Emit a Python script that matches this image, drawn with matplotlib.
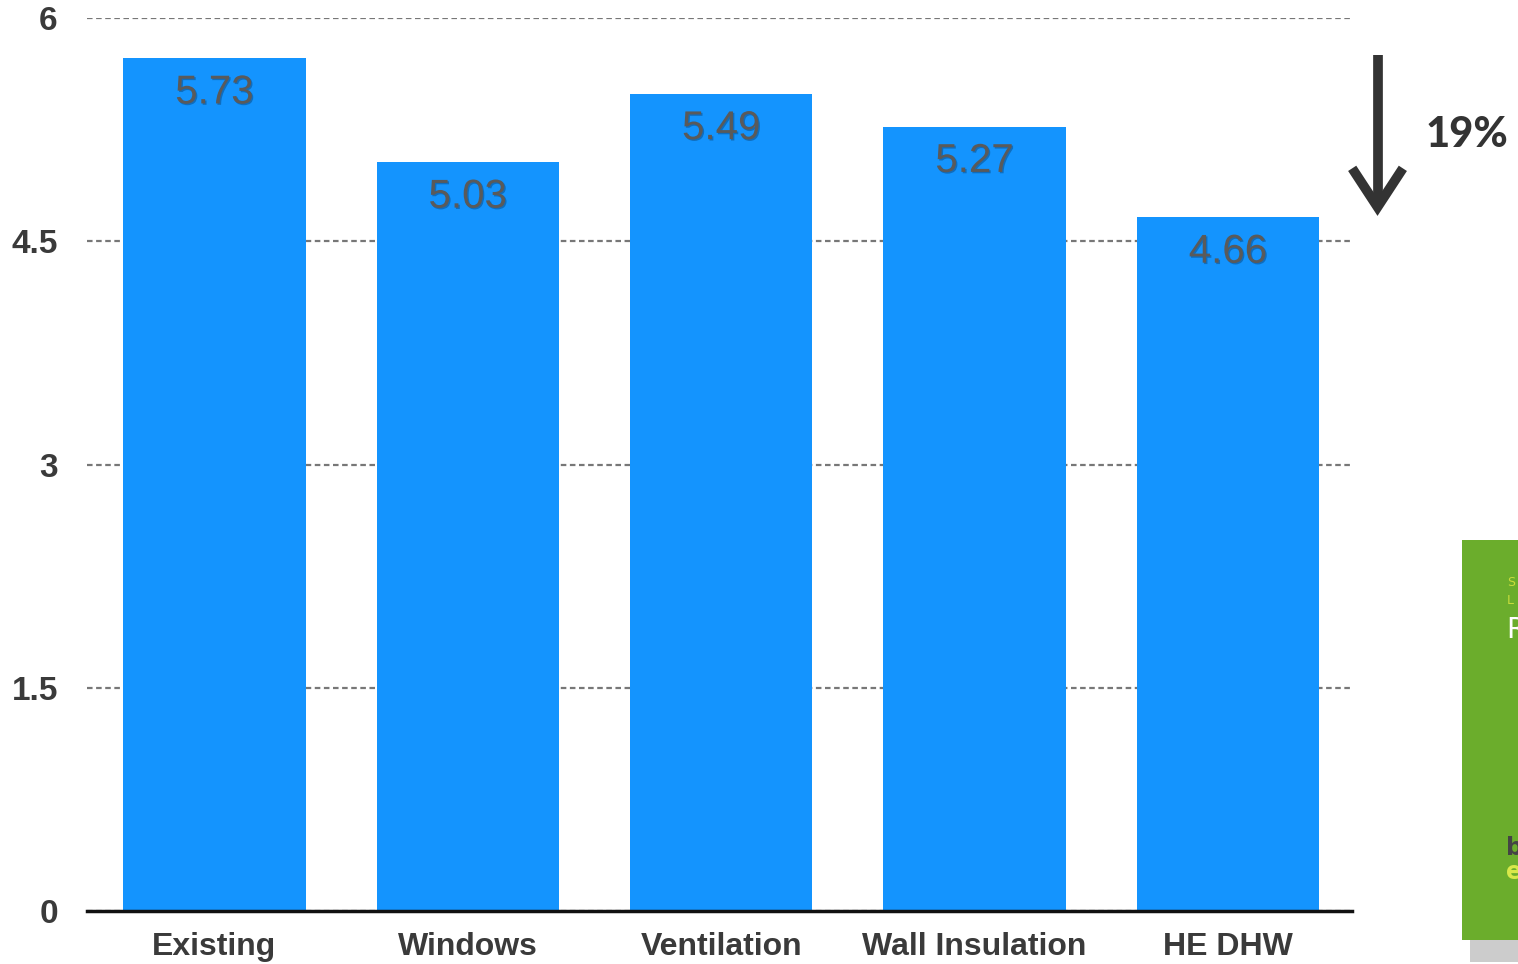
import numpy as np
import matplotlib
matplotlib.use('Agg')
from matplotlib import pyplot as plt
from matplotlib import patheffects as pe
from matplotlib.patches import Rectangle

# data
categories = ['Existing', 'Windows', 'Ventilation', 'Wall Insulation', 'HE DHW']
values = [5.73, 5.03, 5.49, 5.27, 4.66]
yticks = [0, 1.5, 3, 4.5, 6]
ytick_labels = ['0', '1.5', '3', '4.5', '6']

bar_color = '#1494fe'
text_color = '#3a3a3a'

fig = plt.figure(figsize=(15.18, 9.64), dpi=100)
ax = fig.add_axes([0.0573, 0.055, 0.8333, 0.9263])

x = np.arange(len(categories))
ax.bar(x, values, width=0.72, color=bar_color, zorder=3)

ax.set_xlim(-0.503, 4.49)
ax.set_ylim(0, 6)
ax.set_yticks(yticks)
ax.set_yticklabels(ytick_labels)
ax.set_xticks(x)
ax.set_xticklabels(categories)

for s in ['top', 'right', 'left']:
    ax.spines[s].set_visible(False)
ax.spines['bottom'].set_linewidth(2.5)
ax.spines['bottom'].set_color('#111111')
ax.spines['bottom'].set_zorder(4)

ax.tick_params(axis='both', length=0)
ax.tick_params(axis='y', pad=21)
ax.tick_params(axis='x', pad=15)
for lab in ax.get_yticklabels():
    lab.set_fontfamily('Liberation Sans')
    lab.set_fontweight('bold')
    lab.set_fontsize(24)
    lab.set_color(text_color)
for lab in ax.get_xticklabels():
    lab.set_fontfamily('Liberation Sans')
    lab.set_fontweight('bold')
    lab.set_fontsize(23)
    lab.set_color(text_color)

ax.yaxis.grid(True, linestyle=(0, (2.5, 1.6)), color='#777777', linewidth=1.6, zorder=0)
ax.set_axisbelow(True)

# value labels inside bars
for xi, v in zip(x, values):
    ax.text(xi, v - 0.23, f'{v:.2f}', ha='center', va='center', fontsize=29,
            family='Liberation Sans', color='#5a5a5a', zorder=5,
            path_effects=[pe.SimplePatchShadow(offset=(1, -1), shadow_rgbFace='#0a3f70', alpha=0.45),
                          pe.Normal()])

# drop arrow from first to last bar value, open chevron head
ax_x = 4.591
arrow_kw = dict(color='#333333', lw=7, clip_on=False, zorder=5,
                solid_capstyle='butt', solid_joinstyle='miter')
ax.plot([ax_x, ax_x], [values[0] + 0.02, values[-1] + 0.08], **arrow_kw)
ax.plot([ax_x - 0.1, ax_x, ax_x + 0.1],
        [values[-1] + 0.33, values[-1] + 0.07, values[-1] + 0.33], **arrow_kw)
pct = round((values[0] - values[-1]) / values[0] * 100)
fig.text(0.939, 0.86, f'{pct}%', ha='left', va='center', fontsize=30,
         fontweight='black', family='Lato', color='#333333')

# cropped report cover at the right edge
fig.patches.append(Rectangle((1462 / 1518, 1 - 940 / 964), 0.06, 400 / 964,
                             transform=fig.transFigure, facecolor='#6bad2c',
                             edgecolor='none', zorder=1))
fig.patches.append(Rectangle((1470 / 1518, 1 - 962 / 964), 0.05, 22 / 964,
                             transform=fig.transFigure, facecolor='#cccccc',
                             edgecolor='none', zorder=0))
fig.text(1507 / 1518, 1 - 582 / 964, 'S', fontsize=9, color='#c8dc3c', va='center')
fig.text(1507 / 1518, 1 - 600 / 964, 'L', fontsize=9, color='#c8dc3c', va='center')
fig.text(1506 / 1518, 1 - 630 / 964, 'R', fontsize=20, color='white', va='center')
fig.text(1506 / 1518, 1 - 848 / 964, 'b', fontsize=17, fontweight='bold', color='#444444', va='center')
fig.text(1506 / 1518, 1 - 872 / 964, 'e', fontsize=17, fontweight='bold', color='#d8e84a', va='center')

fig.savefig('out.png', dpi=100)
